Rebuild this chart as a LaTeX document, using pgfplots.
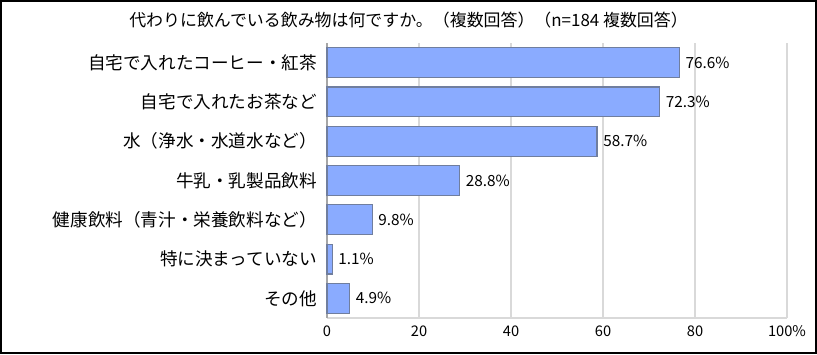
\documentclass[border=0pt]{standalone}
\usepackage{pgfplots}
\pgfplotsset{compat=1.18}
\usepackage{fontspec}
\setmainfont{Noto Sans CJK JP}
\definecolor{barfill}{RGB}{138,171,255}
\definecolor{barline}{RGB}{112,126,158}
\definecolor{gridc}{RGB}{217,217,217}
\begin{document}
\begin{tikzpicture}
\useasboundingbox (0pt,0pt) rectangle (612.75pt,265.5pt);
\draw[line width=1.5pt] (0.75pt,0.75pt) rectangle (612pt,264.75pt);
\node[font=\fontsize{12.7}{15}\selectfont] at (306.4pt,250.5pt) {代わりに飲んでいる飲み物は何ですか。（複数回答）（n=184 複数回答）};
\begin{axis}[at={(245.25pt,27pt)}, anchor=south west, scale only axis,
  width=345pt, height=206.25pt,
  xmin=0, xmax=100, ymin=-0.5, ymax=6.5, y dir=reverse,
  xbar, bar width=0.76,
  ytick={0,...,6},
  yticklabels={自宅で入れたコーヒー・紅茶,自宅で入れたお茶など,水（浄水・水道水など）,牛乳・乳製品飲料,健康飲料（青汁・栄養飲料など）,特に決まっていない,その他},
  xtick={0,20,...,100}, xticklabels={0,20,40,60,80,100\%},
  /pgf/number format/assume math mode=true,
  xmajorgrids, grid style={gridc, line width=0.8pt},
  axis x line*=bottom, axis y line*=left,
  x axis line style={gridc, line width=0.8pt, -},
  y axis line style={gray!70, line width=0.8pt, -},
  major tick length=0pt,
  yticklabel style={font=\fontsize{13.2}{15}\selectfont, xshift=-4pt},
  xticklabel style={font=\fontsize{11}{13}\selectfont, yshift=-2pt},
  nodes near coords={\pgfmathprintnumber[fixed,fixed zerofill,precision=1]{\pgfplotspointmeta}\%},
  every node near coord/.append style={font=\fontsize{11.5}{13}\selectfont, xshift=1pt},
  clip=false,
]
\addplot[fill=barfill, draw=barline, line width=0.8pt] coordinates {(76.6,0) (72.3,1) (58.7,2) (28.8,3) (9.8,4) (1.1,5) (4.9,6)};
\end{axis}
\end{tikzpicture}
\end{document}
